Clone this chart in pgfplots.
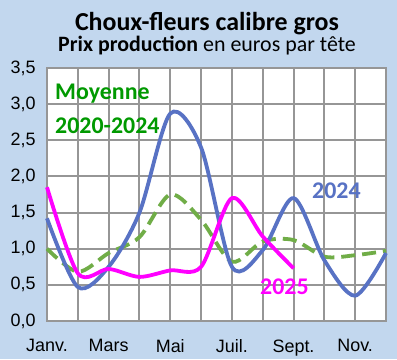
\documentclass[border=0pt]{standalone}
\usepackage{fontspec}
\setmainfont{Carlito}
\newfontfamily\arial{Liberation Sans}
\usepackage{pgfplots}
\pgfplotsset{compat=1.18}
\definecolor{bg}{RGB}{194,215,238}
\definecolor{gridc}{RGB}{150,150,150}
\definecolor{blue24}{RGB}{88,114,196}
\definecolor{green20}{RGB}{112,173,71}
\definecolor{greentxt}{RGB}{0,153,0}
\definecolor{mag}{RGB}{255,0,255}
\begin{document}
\begin{tikzpicture}
\fill[bg] (0,0) rectangle (397bp,359bp);
\node[anchor=base, font=\bfseries\fontsize{26}{26}\selectfont] at (207bp,328bp) {Choux-fleurs calibre gros};
\node[anchor=base, font=\fontsize{22}{22}\selectfont] at (207bp,307bp) {\textbf{Prix production} en euros par tête};
\begin{axis}[
  at={(47bp,38bp)}, anchor=south west,
  width=339bp, height=253bp, scale only axis,
  xmin=0, xmax=11, ymin=0, ymax=3.5,
  axis background/.style={fill=white},
  xtick={0,...,11},
  xticklabels={Janv.,,Mars,,Mai,,Juil.,,Sept.,,Nov.,},
  ytick={0,0.5,1,1.5,2,2.5,3,3.5},
  xmajorgrids=true, ymajorgrids=true,
  major grid style={gridc, line width=2bp},
  axis line style={gridc, line width=2.4bp},
  major tick length=0pt,
  /pgf/number format/assume math mode=true,
  /pgf/number format/.cd, use comma, fixed, fixed zerofill, precision=1,
  /pgfplots/.cd,
  ticklabel style={font=\arial\fontsize{18}{18}\selectfont},
  yticklabel style={xshift=-8bp},
  xticklabel style={yshift=-15bp},
  clip=false,
]
\addplot[green20, line width=3.8bp, dash pattern=on 14bp off 7bp, smooth, tension=0.5] coordinates {
(0,1.00) (1,0.68) (2,0.94) (3,1.16) (4,1.75) (5,1.40) (6,0.82) (7,1.10) (8,1.12) (9,0.89) (10,0.91) (11,0.97)};
\addplot[blue24, line width=3.8bp, smooth, tension=0.5] coordinates {
(0,1.42) (1,0.47) (2,0.75) (3,1.50) (4,2.87) (5,2.40) (6,0.75) (7,0.98) (8,1.70) (9,0.84) (10,0.35) (11,0.94)};
\addplot[mag, line width=3.8bp, smooth, tension=0.5] coordinates {
(0,1.85) (1,0.66) (2,0.72) (3,0.61) (4,0.70) (5,0.75) (6,1.70) (7,1.17) (8,0.73)};
\node[anchor=base west, inner sep=0pt, font=\bfseries\fontsize{24}{24}\selectfont, text=greentxt] at (axis cs:0.26,3.07) {Moyenne};
\node[anchor=base west, inner sep=0pt, font=\bfseries\fontsize{24}{24}\selectfont, text=greentxt] at (axis cs:0.26,2.59) {2020-2024};
\node[anchor=base west, inner sep=0pt, font=\bfseries\fontsize{24}{24}\selectfont, text=blue24] at (axis cs:8.6,1.70) {2024};
\node[anchor=base west, inner sep=0pt, font=\bfseries\fontsize{24}{24}\selectfont, text=mag] at (axis cs:6.91,0.36) {2025};
\end{axis}
\end{tikzpicture}
\end{document}
